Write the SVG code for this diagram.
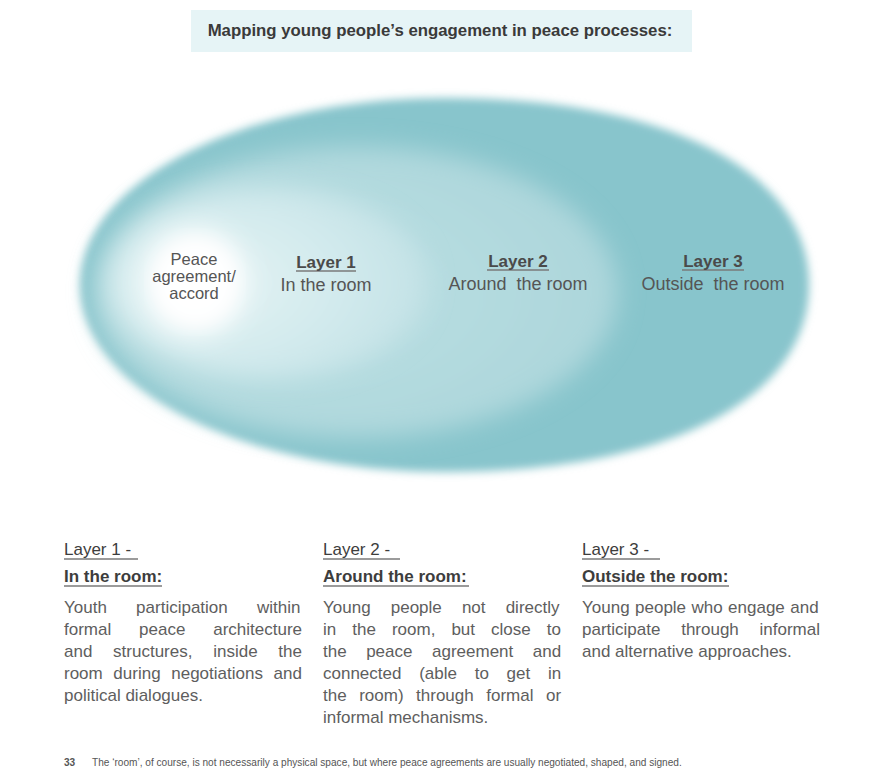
<svg xmlns="http://www.w3.org/2000/svg" width="880" height="781" viewBox="0 0 880 781">
<defs>
<style>
.t{font-family:"Liberation Sans",Arial,sans-serif;fill:#555}
.title{font-family:"Liberation Sans",Arial,sans-serif;font-weight:bold;font-size:16.8px;fill:#3a3a3a}
.lab{font-size:16.5px;text-anchor:middle}
.lh{font-size:17px;font-weight:bold;text-anchor:middle;fill:#4a4a4a}
.ls{font-size:18px;text-anchor:middle}
.h{font-size:17px;fill:#3d3d3d}
.hb{font-size:17px;font-weight:bold;fill:#3d3d3d}
.b{font-size:17px;fill:#5e5e5e}
.ul{stroke:#7a7a7a;stroke-width:1.3}
.fn{font-family:"Liberation Sans",Arial,sans-serif;font-size:10.1px;fill:#555}
</style>
<filter id="b4" x="-10%" y="-10%" width="120%" height="120%"><feGaussianBlur stdDeviation="4"/></filter>
<filter id="b12" x="-20%" y="-20%" width="140%" height="140%"><feGaussianBlur stdDeviation="12"/></filter>
<filter id="b14" x="-30%" y="-30%" width="160%" height="160%"><feGaussianBlur stdDeviation="14"/></filter>
<radialGradient id="g2" cx="0.4" cy="0.5" r="0.6">
<stop offset="0" stop-color="#bde0e4"/>
<stop offset="1" stop-color="#acd6db"/>
</radialGradient>
<radialGradient id="g1" cx="0.3" cy="0.5" r="0.7">
<stop offset="0" stop-color="#e6f4f5"/>
<stop offset="0.6" stop-color="#d2eaed"/>
<stop offset="1" stop-color="#c3e2e6"/>
</radialGradient>
</defs>

<g id="title">
<rect x="191" y="10" width="501" height="42" fill="#e6f4f6"/>
<text class="title" x="440" y="36" text-anchor="middle">Mapping young people’s engagement in peace processes:</text>
</g>

<g id="layer3">
<path d="M80,285 C80,182 243,98 444,98 C670,98 809,172 809,285 C809,398 670,472 444,472 C243,472 80,388 80,285 Z" fill="#88c5cc" filter="url(#b4)"/>
<line class="ul" x1="682" y1="270" x2="744" y2="270"/>
<text class="t lh" x="713" y="267">Layer 3</text>
<text class="t ls" x="713" y="290" xml:space="preserve">Outside  the room</text>
</g>
<g id="layer2">
<ellipse cx="356" cy="292" rx="262" ry="146" fill="url(#g2)" filter="url(#b12)"/>
<line class="ul" x1="487" y1="270" x2="549" y2="270"/>
<text class="t lh" x="518" y="267">Layer 2</text>
<text class="t ls" x="518" y="290" xml:space="preserve">Around  the room</text>
</g>
<g id="layer1">
<ellipse cx="268" cy="283" rx="160" ry="96" fill="url(#g1)" filter="url(#b12)"/>
<line class="ul" x1="296" y1="271" x2="356" y2="271"/>
<text class="t lh" x="326" y="268">Layer 1</text>
<text class="t ls" x="326" y="291">In the room</text>
</g>
<g id="core">
<ellipse cx="195" cy="282" rx="50" ry="52" fill="#ffffff" filter="url(#b14)"/>
<ellipse cx="195" cy="282" rx="36" ry="38" fill="#ffffff" filter="url(#b12)"/>
<text class="t lab" x="194" y="265">Peace</text>
<text class="t lab" x="194" y="282">agreement/</text>
<text class="t lab" x="194" y="299">accord</text>
</g>

<g id="connectors"/>

<g id="col1">
<text class="t h" x="64" y="555">Layer 1 -</text>
<line class="ul" x1="64" y1="559" x2="138" y2="559"/>
<text class="t hb" x="64" y="582">In the room:</text>
<line class="ul" x1="64" y1="586" x2="162" y2="586"/>
<text class="t b" x="64" y="613" word-spacing="24.5">Youth participation within</text>
<text class="t b" x="64" y="635" word-spacing="23.1">formal peace architecture</text>
<text class="t b" x="64" y="657" word-spacing="16">and structures, inside the</text>
<text class="t b" x="64" y="679" word-spacing="5.9">room during negotiations and</text>
<text class="t b" x="64" y="701">political dialogues.</text>
</g>
<g id="col2">
<text class="t h" x="323" y="555">Layer 2 -</text>
<line class="ul" x1="323" y1="559" x2="400" y2="559"/>
<text class="t hb" x="323" y="582">Around the room:</text>
<line class="ul" x1="323" y1="586" x2="469" y2="586"/>
<text class="t b" x="323" y="613" word-spacing="15.4">Young people not directly</text>
<text class="t b" x="323" y="635" word-spacing="11.3">in the room, but close to</text>
<text class="t b" x="323" y="657" word-spacing="14.8">the peace agreement and</text>
<text class="t b" x="323" y="679" word-spacing="13">connected (able to get in</text>
<text class="t b" x="323" y="701" word-spacing="7.8">the room) through formal or</text>
<text class="t b" x="323" y="723">informal mechanisms.</text>
</g>
<g id="col3">
<text class="t h" x="582" y="555">Layer 3 -</text>
<line class="ul" x1="582" y1="559" x2="660" y2="559"/>
<text class="t hb" x="582" y="582">Outside the room:</text>
<line class="ul" x1="582" y1="586" x2="729" y2="586"/>
<text class="t b" x="582" y="613" word-spacing="0.7">Young people who engage and</text>
<text class="t b" x="582" y="635" word-spacing="16">participate through informal</text>
<text class="t b" x="582" y="657">and alternative approaches.</text>
</g>

<g id="footnote">
<text class="fn" x="64" y="766" font-weight="bold" fill="#333">33</text>
<text class="fn" x="92" y="766">The ‘room’, of course, is not necessarily a physical space, but where peace agreements are usually negotiated, shaped, and signed.</text>
</g>
</svg>
